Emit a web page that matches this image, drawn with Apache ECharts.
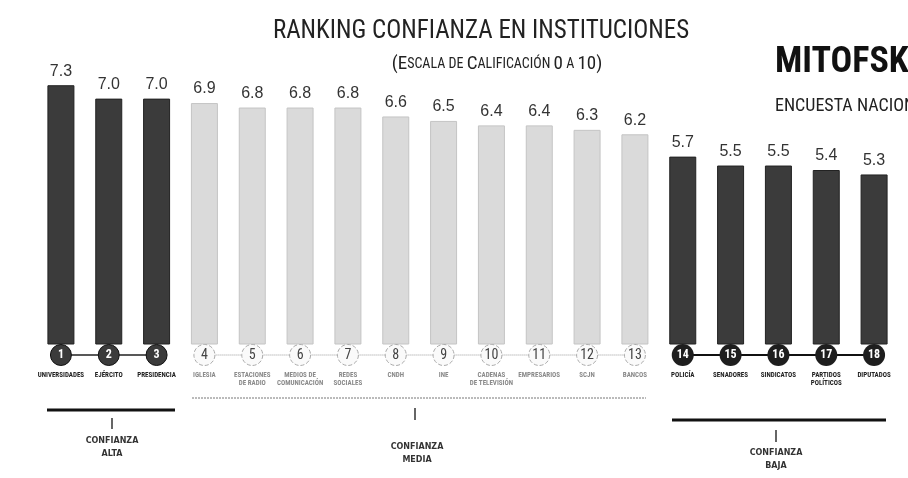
<!DOCTYPE html>
<html>
<head>
<meta charset="utf-8">
<script src="https://cdn.jsdelivr.net/npm/echarts@6/dist/echarts.min.js"></script>
<style>
  html, body { margin: 0; padding: 0; background: #fff; }
  #chart { width: 908px; height: 478px; }
</style>
</head>
<body>
<div id="chart"></div>
<script>
// instituciones, en orden de ranking
var instituciones = ['UNIVERSIDADES', 'EJÉRCITO', 'PRESIDENCIA', 'IGLESIA', 'ESTACIONES\nDE RADIO',
  'MEDIOS DE\nCOMUNICACIÓN', 'REDES\nSOCIALES', 'CNDH', 'INE', 'CADENAS\nDE TELEVISIÓN',
  'EMPRESARIOS', 'SCJN', 'BANCOS', 'POLICÍA', 'SENADORES', 'SINDICATOS', 'PARTIDOS\nPOLÍTICOS', 'DIPUTADOS'];
var calificacion = [7.3, 7.0, 7.0, 6.9, 6.8, 6.8, 6.8, 6.6, 6.5, 6.4, 6.4, 6.3, 6.2, 5.7, 5.5, 5.5, 5.4, 5.3];
var nivel = ['alta', 'alta', 'alta', 'media', 'media', 'media', 'media', 'media', 'media', 'media',
  'media', 'media', 'media', 'baja', 'baja', 'baja', 'baja', 'baja'];

var OSCURO = '#3b3b3b';
var CLARO = '#dadada';
var condensed = '"Liberation Sans Narrow", "Roboto Condensed", "DejaVu Sans Condensed", sans-serif';

// linea que une los círculos de cada grupo
function lineaGrupo(g) {
  return nivel.map(function (n) { return n === g ? 0.5 : '-'; });
}

var chart = echarts.init(document.getElementById('chart'));

chart.setOption({
  backgroundColor: '#fff',
  animation: false,
  grid: [
    { left: 37, right: 10, top: 54, bottom: 134 },
    { left: 37, right: 10, top: 344, height: 22 }
  ],
  xAxis: [
    { type: 'category', gridIndex: 0, data: instituciones, axisLine: { show: false },
      axisTick: { show: false }, axisLabel: { show: false } },
    { type: 'category', gridIndex: 1, data: instituciones, axisLine: { show: false },
      axisTick: { show: false },
      axisLabel: {
        interval: 0, margin: 5, fontSize: 7, fontWeight: 'bold', lineHeight: 8,
        fontFamily: condensed,
        color: function (v, i) { return nivel[i] === 'media' ? '#8a8a8a' : '#222'; }
      } }
  ],
  yAxis: [
    { type: 'value', gridIndex: 0, min: 1.5, max: 8, show: false },
    { type: 'value', gridIndex: 1, min: 0, max: 1, show: false }
  ],
  title: [
    { text: 'RANKING CONFIANZA EN INSTITUCIONES', left: 476, top: 14, textAlign: 'center',
      textStyle: { fontFamily: condensed, fontSize: 25, fontWeight: 'normal', color: '#222' } },
    { text: '{b|(E}{s|SCALA DE }{b|C}{s|ALIFICACIÓN }{b|0}{s| A }{b|10)}', left: 492, top: 50,
      textAlign: 'center',
      textStyle: { fontWeight: 'normal', rich: {
        b: { fontFamily: condensed, fontSize: 19, fontWeight: 'normal', color: '#222' },
        s: { fontFamily: condensed, fontSize: 14, fontWeight: 'normal', color: '#222' }
      } } },
    { text: 'MITOFSKY', left: 770, top: 40,
      textStyle: { fontFamily: condensed, fontSize: 36, fontWeight: 'bold', color: '#111' } },
    { text: 'ENCUESTA NACIONAL', left: 770, top: 92,
      textStyle: { fontFamily: condensed, fontSize: 18, fontWeight: 'normal', color: '#222' } }
  ],
  series: [
    {
      type: 'bar', xAxisIndex: 0, yAxisIndex: 0, barWidth: 27,
      data: calificacion.map(function (v, i) {
        return { value: v, itemStyle: {
          color: nivel[i] === 'media' ? CLARO : OSCURO,
          borderColor: nivel[i] === 'media' ? '#c4c4c4' : '#222', borderWidth: 1 } };
      }),
      label: { show: true, position: 'top', distance: 6, fontSize: 16, color: '#333',
        fontFamily: 'Liberation Sans, Arial, sans-serif',
        formatter: function (p) { return p.value.toFixed(1); } }
    },
    { type: 'line', xAxisIndex: 1, yAxisIndex: 1, data: lineaGrupo('alta'),
      lineStyle: { color: '#222', width: 1.5 }, symbol: 'circle', symbolSize: 21,
      itemStyle: { color: OSCURO, borderColor: '#111', borderWidth: 1 },
      label: { show: true, position: 'inside', color: '#fff', fontSize: 12, fontWeight: 'bold',
        fontFamily: condensed, formatter: function (p) { return p.dataIndex + 1; } } },
    { type: 'line', xAxisIndex: 1, yAxisIndex: 1, data: lineaGrupo('media'),
      lineStyle: { color: '#999', width: 1, type: 'dotted' }, symbol: 'circle', symbolSize: 21,
      itemStyle: { color: '#fafafa', borderColor: '#aaa', borderWidth: 1, borderType: 'dashed' },
      label: { show: true, position: 'inside', color: '#444', fontSize: 14,
        fontFamily: condensed, formatter: function (p) { return p.dataIndex + 1; } } },
    { type: 'line', xAxisIndex: 1, yAxisIndex: 1, data: lineaGrupo('baja'),
      lineStyle: { color: '#111', width: 2 }, symbol: 'circle', symbolSize: 22,
      itemStyle: { color: '#1e1e1e' },
      label: { show: true, position: 'inside', color: '#fff', fontSize: 12, fontWeight: 'bold',
        fontFamily: condensed, formatter: function (p) { return p.dataIndex + 1; } } }
  ]
});

// llaves de grupo bajo las etiquetas
var textoGrupo = { fontSize: 8, fontWeight: 'bold', fill: '#333', align: 'center', lineHeight: 13,
  fontFamily: 'DejaVu Sans, sans-serif' };
chart.setOption({
  graphic: [
    { type: 'line', shape: { x1: 47, y1: 410, x2: 175, y2: 410 }, style: { stroke: '#111', lineWidth: 3 } },
    { type: 'line', shape: { x1: 112, y1: 418, x2: 112, y2: 429 }, style: { stroke: '#333', lineWidth: 1.5 } },
    { type: 'text', x: 112, y: 434, style: Object.assign({ text: 'CONFIANZA\nALTA' }, textoGrupo) },

    { type: 'line', shape: { x1: 192, y1: 398, x2: 646, y2: 398 }, style: { stroke: '#777', lineWidth: 1, lineDash: [2, 1] } },
    { type: 'line', shape: { x1: 415, y1: 408, x2: 415, y2: 420 }, style: { stroke: '#333', lineWidth: 1.5 } },
    { type: 'text', x: 417, y: 440, style: Object.assign({ text: 'CONFIANZA\nMEDIA' }, textoGrupo) },

    { type: 'line', shape: { x1: 672, y1: 420, x2: 886, y2: 420 }, style: { stroke: '#111', lineWidth: 3 } },
    { type: 'line', shape: { x1: 776, y1: 430, x2: 776, y2: 442 }, style: { stroke: '#333', lineWidth: 1.5 } },
    { type: 'text', x: 776, y: 446, style: Object.assign({ text: 'CONFIANZA\nBAJA' }, textoGrupo) }
  ]
});
</script>
</body>
</html>
